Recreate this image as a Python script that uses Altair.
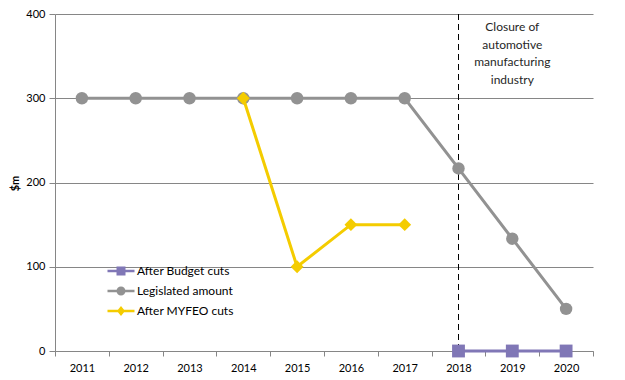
import altair as alt
import pandas as pd

years = [2011, 2012, 2013, 2014, 2015, 2016, 2017, 2018, 2019, 2020]
legislated = [300, 300, 300, 300, 300, 300, 300, 216.7, 133.3, 50]
myfeo_years = [2014, 2015, 2016, 2017]
myfeo = [300, 100, 150, 150]
budget_years = [2018, 2019, 2020]
budget = [0, 0, 0]
series_names = ["After Budget cuts", "Legislated amount", "After MYFEO cuts"]
series_colors = ["#8077b6", "#929292", "#f4cc00"]
closure_year = [2018]
annotation_year = [2019]
annotation_text = ["Closure of", "automotive", "manufacturing", "industry"]
y_ticks = [0, 100, 200, 300, 400]

rows = []
for y, v in zip(years, legislated):
    rows.append({"series": "Legislated amount", "year": y, "value": v})
for y, v in zip(myfeo_years, myfeo):
    rows.append({"series": "After MYFEO cuts", "year": y, "value": v})
for y, v in zip(budget_years, budget):
    rows.append({"series": "After Budget cuts", "year": y, "value": v})
df = pd.DataFrame(rows)

FONT = "Lato"
GRID = "#868686"

xscale = alt.Scale(type="band", domain=years, paddingInner=0, paddingOuter=0)
yscale = alt.Scale(domain=[0, 400])

xenc = alt.X("year:O", scale=xscale, bandPosition=0.5,
             axis=alt.Axis(title=None, tickBand="extent", labelAngle=0,
                           labelFont=FONT, labelFontSize=11, labelColor="#000000",
                           domainColor=GRID, tickColor=GRID, tickSize=5,
                           labelPadding=6, grid=False))
yenc = alt.Y("value:Q", scale=yscale,
             axis=alt.Axis(title="$m", values=y_ticks, titleFont=FONT, titleFontSize=11,
                           titleFontWeight="bold", titleColor="#000000",
                           titleX=-35, titleY=169, titleAngle=-90,
                           labelFont=FONT, labelFontSize=11, labelColor="#000000",
                           domainColor=GRID, tickColor=GRID, tickSize=6, labelPadding=4,
                           grid=True, gridColor=GRID, gridWidth=1))

color_of = dict(zip(series_names, series_colors))
color_scale = alt.Scale(domain=series_names, range=series_colors)

# legend glyphs: a short line with the series marker on it
line_path = "M-1.5,-0.15H1.5V0.15H-1.5Z"
sq = "M-0.5,-0.5H0.5V0.5H-0.5Z"
circ = "M0.5,0A0.5,0.5 0 1,1 -0.5,0A0.5,0.5 0 1,1 0.5,0Z"
dia = "M0,-0.55L0.45,0L0,0.55L-0.45,0Z"
legend_shapes = [line_path + sq, line_path + circ, line_path + dia]

base = alt.Chart(df)

leg = alt.Legend(title=None, orient="none", legendX=57, legendY=248,
                 symbolSize=324, labelOffset=7, rowPadding=5,
                 symbolOpacity=1, symbolStrokeWidth=0,
                 labelFont=FONT, labelFontSize=12, labelColor="#000000")

legend_layer = base.mark_point(filled=True, size=0).encode(
    x=xenc, y=yenc,
    color=alt.Color("series:N", scale=color_scale, legend=leg),
    shape=alt.Shape("series:N", scale=alt.Scale(domain=series_names, range=legend_shapes),
                    legend=leg),
)

marker_shapes = {"Legislated amount": ("circle", 155),
                 "After MYFEO cuts": ("diamond", 165),
                 "After Budget cuts": ("square", 165)}
line_layers = []
point_layers = []
for name in ["Legislated amount", "After MYFEO cuts", "After Budget cuts"]:
    shp, sz = marker_shapes[name]
    sub = base.transform_filter(alt.datum.series == name)
    line_layers.append(sub.mark_line(strokeWidth=3, color=color_of[name]).encode(x=xenc, y=yenc))
    point_layers.append(sub.mark_point(filled=True, opacity=1, shape=shp, size=sz,
                                       color=color_of[name]).encode(x=xenc, y=yenc))

rule = alt.Chart(pd.DataFrame({"year": closure_year})).mark_rule(
    color="#000000", strokeDash=[6, 4], strokeWidth=1).encode(x=xenc)

text = alt.Chart(pd.DataFrame({"year": annotation_year, "label": [annotation_text]})).mark_text(
    font=FONT, fontSize=12, color="#262626", align="center", baseline="top", lineHeight=17.5
).encode(x=xenc, y=alt.value(8), text="label")

layers = [legend_layer, rule,
          line_layers[0], point_layers[0],
          line_layers[1], point_layers[1],
          line_layers[2], point_layers[2], text]

chart = alt.layer(*layers).properties(
    width=538, height=337,
    autosize=alt.AutoSizeParams(type="none"),
    padding={"left": 47, "top": 6, "right": 24, "bottom": 27},
).configure_view(stroke=None).configure_axis(domainWidth=1, tickWidth=1)

chart.save("out.html", embed_options={"renderer": "svg", "actions": False})
